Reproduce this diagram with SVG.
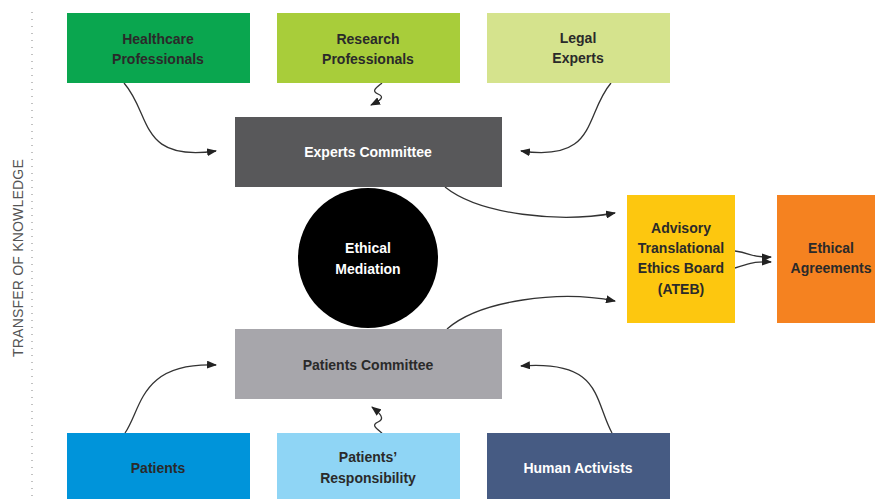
<svg xmlns="http://www.w3.org/2000/svg" width="875" height="499" viewBox="0 0 875 499">
<style>
text{font-family:"Liberation Sans",Arial,sans-serif;font-weight:bold;font-size:14px;text-anchor:middle;dominant-baseline:central;fill:#2a2a2a}
.w{fill:#ffffff}
.side{font-weight:normal;font-size:14px;fill:#555555;letter-spacing:0.2px}
.c{fill:none;stroke:#333333;stroke-width:1.3}
</style>
<defs>
<marker id="ah" markerUnits="userSpaceOnUse" markerWidth="10" markerHeight="8" refX="9" refY="4" orient="auto">
<path d="M0,0 L10,4 L0,8 Z" fill="#222222"/>
</marker>
</defs>
<rect width="875" height="499" fill="#ffffff"/>
<line x1="32" y1="12" x2="32" y2="496" stroke="#a0a0a0" stroke-width="1.3" stroke-dasharray="1 6"/>
<text class="side" transform="translate(18,258) rotate(-90)">TRANSFER OF KNOWLEDGE</text>

<g id="connectors">
<path class="c" marker-end="url(#ah)" d="M124,83 C152,115 138,162 216,151"/>
<path class="c" marker-end="url(#ah)" d="M611,83 C584,115 598,162 521,151"/>
<path class="c" marker-end="url(#ah)" d="M382,83 C376,88 371,91 378,94 C385,97 381,100 371,105"/>
<path class="c" marker-end="url(#ah)" d="M382,433 C376,428 371,425 378,422 C385,419 381,414 372,407"/>
<path class="c" marker-end="url(#ah)" d="M125,433 C142,408 140,362 216,365"/>
<path class="c" marker-end="url(#ah)" d="M612,433 C594,400 602,360 521,366"/>
<path class="c" marker-end="url(#ah)" d="M445,187 C480,215 560,223 615,213"/>
<path class="c" marker-end="url(#ah)" d="M447,329 C480,300 560,290 615,301"/>
<path class="c" marker-end="url(#ah)" d="M735,251 C752,253 750,258 771,257"/>
<path class="c" marker-end="url(#ah)" d="M735,268 C750,264 752,261 771,262"/>
</g>

<g id="healthcare"><rect x="67" y="13" width="183" height="70" fill="#0aa64f"/><text x="158" y="39">Healthcare</text><text x="158" y="59">Professionals</text></g>
<g id="research"><rect x="277" y="13" width="183" height="70" fill="#a8cd3a"/><text x="368" y="39">Research</text><text x="368" y="59">Professionals</text></g>
<g id="legal"><rect x="487" y="13" width="183" height="70" fill="#d5e38d"/><text x="578" y="38">Legal</text><text x="578" y="58">Experts</text></g>
<g id="experts-committee"><rect x="235" y="117" width="267" height="70" fill="#58585a"/><text class="w" x="368" y="152">Experts Committee</text></g>
<g id="ethical-mediation"><circle cx="368" cy="258" r="70" fill="#000000"/><text class="w" x="368" y="248">Ethical</text><text class="w" x="368" y="269">Mediation</text></g>
<g id="ateb"><rect x="627" y="195" width="108" height="128" fill="#fdc70f"/><text x="681" y="228">Advisory</text><text x="681" y="248">Translational</text><text x="681" y="268">Ethics Board</text><text x="681" y="289">(ATEB)</text></g>
<g id="ethical-agreements"><rect x="777" y="195" width="100" height="128" fill="#f58220"/><text x="831" y="248">Ethical</text><text x="831" y="268">Agreements</text></g>
<g id="patients-committee"><rect x="235" y="329" width="267" height="70" fill="#a7a6ab"/><text x="368" y="365">Patients Committee</text></g>
<g id="patients"><rect x="67" y="433" width="183" height="70" fill="#0094da"/><text x="158" y="468">Patients</text></g>
<g id="patients-responsibility"><rect x="277" y="433" width="183" height="70" fill="#8fd5f5"/><text x="368" y="457">Patients’</text><text x="368" y="478">Responsibility</text></g>
<g id="human-activists"><rect x="487" y="433" width="183" height="70" fill="#465b83"/><text class="w" x="578" y="468">Human Activists</text></g>
</svg>
